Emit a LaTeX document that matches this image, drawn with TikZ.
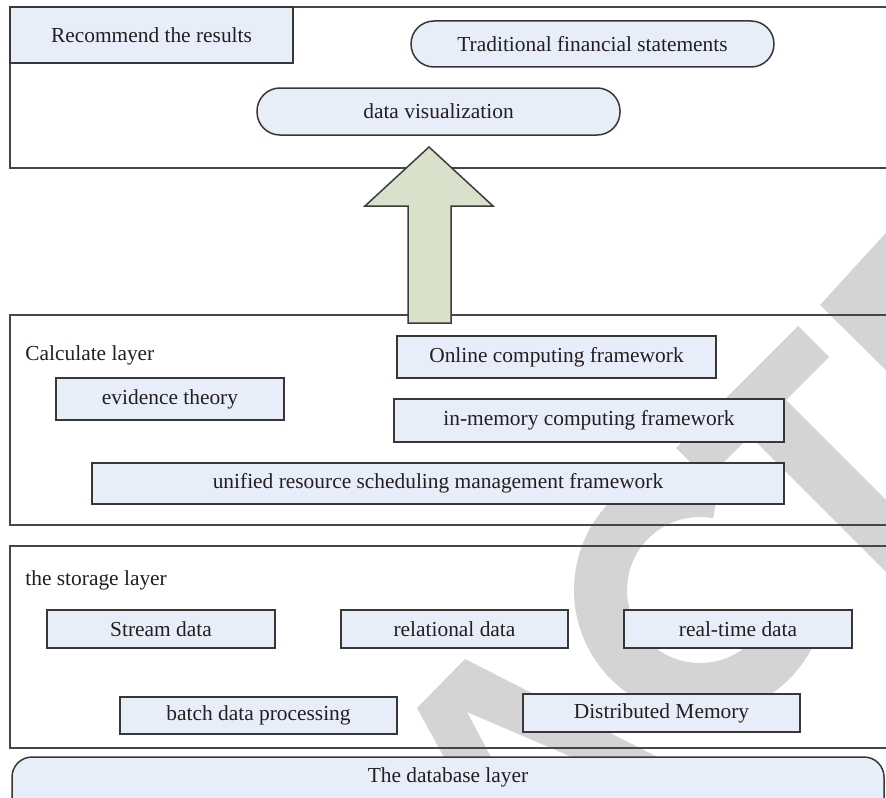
\documentclass[tikz,border=0pt]{standalone}
\usepackage{fontspec}
\setmainfont{Liberation Serif}
\definecolor{boxfill}{RGB}{232,238,249}
\definecolor{boxline}{RGB}{55,55,55}
\definecolor{frameline}{RGB}{70,70,70}
\definecolor{arrowfill}{RGB}{216,226,203}
\definecolor{arrowline}{RGB}{60,60,60}
\definecolor{wmgray}{RGB}{212,212,212}
\definecolor{txt}{RGB}{35,31,32}
\newcommand\myboxfont{\fontsize{10.7}{12.8}\selectfont}
\begin{document}
\begin{tikzpicture}[x=0.5pt,y=-0.5pt,
  box/.style={draw=boxline, fill=boxfill, line width=0.75pt, inner sep=0pt, text=txt, font=\myboxfont},
  pill/.style={box, rounded corners=11.5pt},
  frame/.style={draw=frameline, line width=0.9pt},
  lbl/.style={inner sep=0pt, text=txt, font=\myboxfont},
  wm/.style={fill=wmgray, draw=none}]
\useasboundingbox (0,0) rectangle (886,797);
\clip (0,0) rectangle (886,797);
\fill[white] (0,0) rectangle (886,797);
% watermark (behind everything)
\fill[wm] (820,305) -- (905,212) -- (905,389) -- cycle;
\fill[wm] (798,326) -- (829,357) -- (707,479) -- (676,448) -- cycle;
\fill[wm] (786,400) -- (905,519) -- (905,591) -- (750,436) -- cycle;
\draw[wmgray, line width=26.5pt] (700,590) ++(-80:99.5) arc[start angle=-80, end angle=-340, radius=99.5];
\fill[wm] (417,708) -- (465,659) -- (683,770) -- (602,770) -- (467,712) -- (498,770) -- (451,770) -- cycle;
% layer frames
\draw[frame] (10,7) rectangle (900,168);
\draw[frame] (10,315) rectangle (900,525);
\draw[frame] (10,546) rectangle (900,748);
% top layer
\node[box, minimum width=141.5pt, minimum height=28pt] (rec) at (151.5,35) {Recommend the results};
\node[pill, minimum width=181.5pt, minimum height=23pt] (trad) at (592.5,44) {Traditional financial statements};
\node[pill, minimum width=181.5pt, minimum height=23.5pt] (vis) at (438.5,111.5) {data visualization};
% calculate layer
\node[lbl, anchor=west] (calc) at (25,355) {Calculate layer};
\node[box, minimum width=159.5pt, minimum height=21pt] (online) at (556.5,357) {Online computing framework};
\node[box, minimum width=114pt, minimum height=21pt] (evid) at (170,399) {evidence theory};
\node[box, minimum width=195pt, minimum height=21.5pt] (inmem) at (589,420.5) {in-memory computing framework};
\node[box, minimum width=346pt, minimum height=20.5pt] (unif) at (438,483.5) {unified resource scheduling management framework};
% storage layer
\node[lbl, anchor=west] (stor) at (25,580) {the storage layer};
\node[box, minimum width=114pt, minimum height=19pt] (stream) at (161,629) {Stream data};
\node[box, minimum width=113.5pt, minimum height=19pt] (rel) at (454.5,629) {relational data};
\node[box, minimum width=114pt, minimum height=19pt] (rt) at (738,629) {real-time data};
\node[box, minimum width=138.5pt, minimum height=18.5pt] (batch) at (258.5,715.5) {batch data processing};
\node[box, minimum width=138.5pt, minimum height=19pt] (dist) at (661.5,713) {Distributed Memory};
% database layer
\node[box, rounded corners=10pt, minimum width=436pt, minimum height=31.5pt] (db) at (448,788.5) {};
\node[lbl] (dbt) at (448,777) {The database layer};
% block arrow
\draw[draw=arrowline, fill=arrowfill, line width=0.75pt, line join=miter]
  (408,323) -- (408,206) -- (365,206) -- (429,147) -- (493,206) -- (451,206) -- (451,323) -- cycle;
\end{tikzpicture}
\end{document}
